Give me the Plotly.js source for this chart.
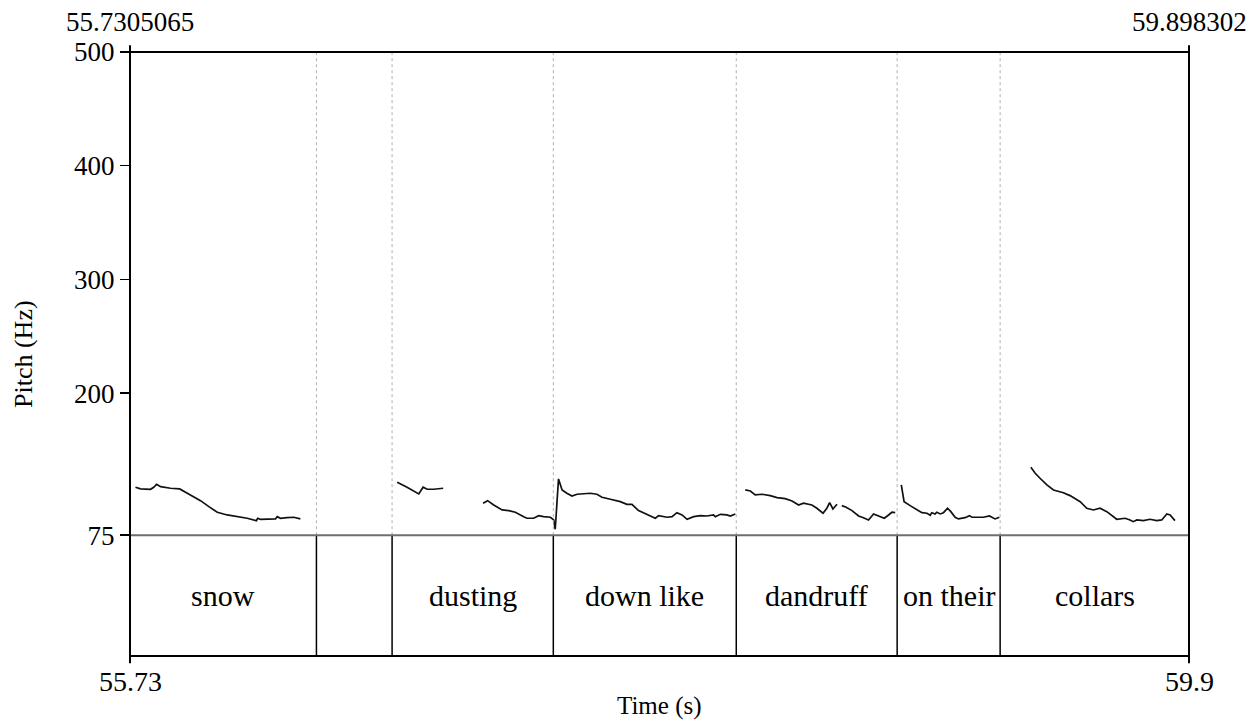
<!DOCTYPE html>
<html>
<head>
<meta charset="utf-8">
<script src="https://cdn.plot.ly/plotly-3.0.1.min.js"></script>
<style>
  html, body { margin: 0; padding: 0; background: #fff; }
  #chart { width: 1258px; height: 722px; }
</style>
</head>
<body>
<div id="chart"></div>
<script>
// Time window of the excerpt (s)
const tStart = 55.7305065;
const tEnd = 59.898302;

// Pitch axis (Hz)
const pitchMin = 75;
const pitchMax = 500;
const pitchTicks = [75, 200, 300, 400, 500];

// Word tier: interval boundaries (s) and labels
const boundaries = [56.4642, 56.762, 57.3965, 58.1165, 58.7497, 59.155];
const words = ["snow", "", "dusting", "down like", "dandruff", "on their", "collars"];

// Pitch contour, voiced stretches (time in s, F0 in Hz)
const snowTime = [55.752, 55.772, 55.811, 55.824, 55.835, 55.851, 55.890, 55.926, 55.956, 56.008,
  56.041, 56.074, 56.113, 56.139, 56.192, 56.228, 56.233, 56.244, 56.270, 56.303,
  56.310, 56.323, 56.349, 56.375, 56.401];
const snowHz = [117.2, 115.7, 115.4, 117.2, 119.8, 117.7, 116.3, 115.7, 111.9, 105.4,
  100.1, 95.2, 92.8, 91.9, 89.9, 87.8, 89.9, 89.0, 89.3, 89.3,
  91.3, 89.9, 90.4, 90.8, 89.3];

const dustTime = [56.782, 56.821, 56.867, 56.884, 56.900, 56.926, 56.963];
const dustHz = [121.5, 117.2, 111.3, 117.2, 115.4, 115.4, 116.3];

const downTime = [57.120, 57.138, 57.162, 57.195, 57.221, 57.247, 57.280, 57.293, 57.319, 57.339,
  57.358, 57.385, 57.398, 57.404, 57.417, 57.431, 57.450, 57.470, 57.490, 57.542,
  57.568, 57.588, 57.621, 57.660, 57.686, 57.706, 57.732, 57.765, 57.798, 57.811,
  57.844, 57.864, 57.883, 57.903, 57.923, 57.949, 57.975, 58.001, 58.027, 58.034,
  58.054, 58.080, 58.093, 58.113];
const downHz = [103.1, 105.4, 101.6, 97.2, 96.6, 95.2, 91.3, 89.9, 89.9, 92.2,
  91.3, 90.8, 88.4, 80.2, 124.5, 114.8, 111.9, 109.5, 111.0, 111.9,
  111.0, 108.4, 106.6, 104.5, 102.2, 102.2, 96.6, 93.4, 89.9, 92.2,
  90.8, 91.3, 94.8, 92.8, 89.0, 91.3, 92.2, 91.9, 92.8, 91.3,
  93.4, 92.8, 91.9, 93.7];

const dandTime = [58.152, 58.172, 58.191, 58.218, 58.250, 58.277, 58.309, 58.336, 58.362, 58.381,
  58.414, 58.434, 58.458, 58.473, 58.484, 58.497, 58.513];
const dandHz = [114.8, 113.9, 110.4, 111.0, 109.8, 108.0, 107.1, 105.1, 101.6, 103.1,
  101.6, 98.7, 94.3, 98.7, 103.6, 98.1, 102.2];

const ruffTime = [58.532, 58.549, 58.572, 58.598, 58.617, 58.637, 58.657, 58.676, 58.699, 58.716,
  58.729, 58.742];
const ruffHz = [101.0, 99.6, 96.6, 91.9, 90.4, 88.4, 93.7, 92.2, 89.9, 92.8,
  95.2, 94.8];

const onTime = [58.766, 58.777, 58.801, 58.827, 58.847, 58.867, 58.880, 58.886, 58.899, 58.906,
  58.919, 58.932, 58.948, 58.961, 58.978, 58.991, 59.017, 59.034, 59.044, 59.063,
  59.089, 59.113, 59.135, 59.152];
const onHz = [119.2, 104.5, 101.0, 97.2, 94.8, 94.3, 92.5, 94.8, 93.7, 95.2,
  93.7, 94.8, 98.7, 95.7, 90.8, 89.3, 90.4, 92.2, 90.8, 90.8,
  90.8, 91.9, 89.3, 90.8];

const collTime = [59.276, 59.293, 59.312, 59.339, 59.365, 59.404, 59.430, 59.470, 59.496, 59.522,
  59.548, 59.575, 59.614, 59.647, 59.666, 59.679, 59.693, 59.719, 59.745, 59.771,
  59.791, 59.811, 59.824, 59.843];
const collHz = [134.7, 129.5, 125.1, 119.2, 114.8, 112.4, 109.8, 104.5, 98.7, 97.2,
  98.7, 95.7, 89.0, 89.9, 88.4, 86.9, 88.4, 87.8, 89.0, 87.8,
  88.4, 93.7, 92.8, 87.8];

const segments = [
  [snowTime, snowHz], [dustTime, dustHz], [downTime, downHz],
  [dandTime, dandHz], [ruffTime, ruffHz], [onTime, onHz], [collTime, collHz]
];

const FONT = "Liberation Serif, Times New Roman, serif";
const tierTop = 0.2; // fraction of plot height used by the word tier

const traces = segments.map(([t, f]) => ({
  x: t, y: f, type: "scatter", mode: "lines",
  line: { color: "#111", width: 1.7 },
  hoverinfo: "skip", showlegend: false
}));

const shapes = [];
// tier boundaries: dotted through the pitch area, solid inside the tier
boundaries.forEach(b => {
  shapes.push({ type: "line", xref: "x", yref: "paper", x0: b, x1: b, y0: tierTop, y1: 1,
    line: { color: "#b0b0b0", width: 1, dash: "dot" } });
  shapes.push({ type: "line", xref: "x", yref: "paper", x0: b, x1: b, y0: 0, y1: tierTop,
    line: { color: "#000", width: 1.5 } });
});
// separator between pitch area and tier
shapes.push({ type: "line", xref: "paper", yref: "paper", x0: 0, x1: 1, y0: tierTop, y1: tierTop,
  line: { color: "#6e6e6e", width: 2 } });
// outer frame
shapes.push({ type: "rect", xref: "paper", yref: "paper", x0: 0, x1: 1, y0: 0, y1: 1,
  line: { color: "#000", width: 2 } });
// short marks beyond the frame corners
[[0, 1, 1.011], [1, 1, 1.011], [0, 0, -0.012], [1, 0, -0.012]].forEach(([x, ya, yb]) => {
  shapes.push({ type: "line", xref: "paper", yref: "paper", x0: x, x1: x, y0: ya, y1: yb,
    line: { color: "#000", width: 2 } });
});

const annotations = [];
const edges = [tStart, ...boundaries, tEnd];
words.forEach((w, i) => {
  if (!w) return;
  annotations.push({ x: (edges[i] + edges[i + 1]) / 2, xref: "x", y: tierTop / 2, yref: "paper",
    text: w, showarrow: false, font: { family: FONT, size: 30, color: "#000" },
    xanchor: "center", yanchor: "middle" });
});
const axisText = (text, x, y, yshift, size, extra) => Object.assign({
  x, y, xref: "paper", yref: "paper", text, showarrow: false,
  font: { family: FONT, size, color: "#000" }, borderpad: 0,
  xanchor: "center", yanchor: "middle", yshift
}, extra || {});
annotations.push(axisText(String(tStart), 0, 1, 30, 27));
annotations.push(axisText(String(tEnd), 1, 1, 30, 27));
annotations.push(axisText(tStart.toFixed(2), 0, 0, -25, 28));
annotations.push(axisText(tEnd.toFixed(1), 1, 0, -25, 28));
annotations.push(axisText("Time (s)", 0.5, 0, -50, 25));
annotations.push(axisText("Pitch (Hz)", 0, 0.5, 0, 26, { xshift: -107, textangle: -90 }));

const layout = {
  width: 1258, height: 722,
  margin: { l: 130, r: 69, t: 52, b: 66 },
  paper_bgcolor: "#fff", plot_bgcolor: "#fff",
  showlegend: false,
  xaxis: { range: [tStart, tEnd], showticklabels: false, ticks: "", showgrid: false,
    zeroline: false, showline: false, fixedrange: true },
  yaxis: { domain: [tierTop, 1], range: [pitchMin, pitchMax], tickvals: pitchTicks,
    ticktext: pitchTicks.map(String), ticks: "outside", ticklen: 9, tickwidth: 1.5,
    tickcolor: "#000", tickfont: { family: FONT, size: 27, color: "#000" },
    showgrid: false, zeroline: false, showline: false, fixedrange: true },
  shapes, annotations
};

Plotly.newPlot("chart", traces, layout, { staticPlot: true, displayModeBar: false });
</script>
</body>
</html>
